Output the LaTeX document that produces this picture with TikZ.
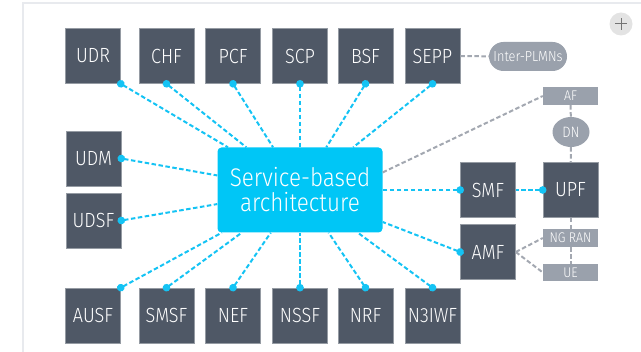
\documentclass[tikz,border=0pt]{standalone}
\usepackage{fontspec}
\setmainfont{Fira Sans}[UprightFont=* Light, FakeStretch=0.88]
\usetikzlibrary{arrows.meta,shapes.geometric}

\definecolor{nfgray}{HTML}{4F5866}
\definecolor{extgray}{HTML}{9AA1AC}
\definecolor{sbacyan}{HTML}{00C6F6}
\definecolor{linkcyan}{HTML}{14C3F4}
\definecolor{linkgray}{HTML}{A3A8B1}
\definecolor{framegray}{HTML}{E8EAEE}

\begin{document}
\begin{tikzpicture}[x=1pt, y=-1pt,
    nf/.style={rectangle, fill=nfgray, draw=nfgray!60!white, line width=0.6pt, text=white,
        minimum width=55pt, minimum height=55pt, inner sep=0pt, font=\fontsize{20.5}{22}\selectfont},
    ext/.style={rectangle, fill=extgray, text=white, minimum width=55pt, minimum height=18pt,
        inner sep=0pt, font=\fontsize{14}{14}\selectfont},
    sba link/.style={linkcyan, line width=2pt, dash pattern=on 4.5pt off 2.5pt,
        {Circle[length=7.5pt]}-, shorten <=-3.75pt},
    ext link/.style={linkgray, line width=2pt, dash pattern=on 4.5pt off 2.5pt}
]
\useasboundingbox (0,0) rectangle (641,352);

% Frame
\draw[framegray, line width=1.5pt] (23,360) -- (23,3) -- (660,3);
\node[circle, fill=gray!22, minimum size=23pt, inner sep=0pt,
    path picture={\draw[gray!90!black, line width=1pt] (path picture bounding box.center) +(-6pt,0) -- +(6pt,0)
        (path picture bounding box.center) +(0,-6pt) -- +(0,6pt);}] (plus) at (621,24) {};

% Service-based architecture
\node[rectangle, rounded corners=4pt, fill=sbacyan, text=white, minimum width=165pt,
    minimum height=85pt, inner sep=0pt, align=center,
    font=\fontsize{25.5}{25}\selectfont] (SBA) at (300,190) {Service-based\\architecture};

% Top row
\node[nf] (UDR) at (93,56) {UDR};
\node[nf] (CHF) at (166.5,56) {CHF};
\node[nf] (PCF) at (233,56) {PCF};
\node[nf] (SCP) at (300,56) {SCP};
\node[nf] (BSF) at (365.5,56) {BSF};
\node[nf] (SEPP) at (432.5,56) {SEPP};

% Left column
\node[nf] (UDM) at (93.5,158.5) {UDM};
\node[nf] (UDSF) at (93.5,220.5) {UDSF};

% Bottom row
\node[nf] (AUSF) at (93,315.5) {AUSF};
\node[nf] (SMSF) at (166.5,315.5) {SMSF};
\node[nf] (NEF) at (233,315.5) {NEF};
\node[nf] (NSSF) at (300,315.5) {NSSF};
\node[nf] (NRF) at (365.5,315.5) {NRF};
\node[nf] (N3IWF) at (432.5,315.5) {N3IWF};

% Right side
\node[nf] (SMF) at (488,190) {SMF};
\node[nf] (UPF) at (570.5,190) {UPF};
\node[nf] (AMF) at (488,252) {AMF};

% External
\node[rectangle, rounded corners=14.5pt, fill=extgray, text=white, minimum width=78pt,
    minimum height=29pt, inner sep=0pt, font=\fontsize{14.5}{16}\selectfont] (PLMN) at (528,56.5) {Inter-PLMNs};
\node[ext] (AF) at (570.5,96) {AF};
\node[ellipse, fill=extgray, text=white, minimum width=37pt, minimum height=30pt, inner sep=0pt,
    font=\fontsize{15}{15}\selectfont] (DN) at (571,132) {DN};
\node[ext] (NGRAN) at (570.5,238) {NG RAN};
\node[ext, minimum height=17pt] (UE) at (570.5,272.5) {UE};

% Links to the service-based architecture
\draw[sba link] (UDR.south east) -- (SBA);
\draw[sba link] (CHF.south) -- (SBA);
\draw[sba link] (PCF.south) -- (SBA);
\draw[sba link] (SCP.south) -- (SBA);
\draw[sba link] (BSF.south) -- (SBA);
\draw[sba link] (SEPP.south) -- (SBA);
\draw[sba link] (UDM.east) -- (SBA);
\draw[sba link] (UDSF.east) -- (SBA);
\draw[sba link] (AUSF.north east) -- (SBA);
\draw[sba link] (SMSF.north) -- (SBA);
\draw[sba link] (NEF.north) -- (SBA);
\draw[sba link] (NSSF.north) -- (SBA);
\draw[sba link] (NRF.north) -- (SBA);
\draw[sba link] (N3IWF.north) -- (SBA);
\draw[sba link] (SMF.west) -- (SBA);
\draw[sba link] (AMF.west) -- (SBA);
\draw[sba link] (UPF.west) -- (SMF.east);

% External links
\draw[ext link] (SEPP) -- (PLMN);
\draw[ext link] (SBA.12) -- (AF.west);
\draw[ext link] (AF) -- (DN);
\draw[ext link] (DN) -- (UPF);
\draw[ext link] (UPF) -- (NGRAN);
\draw[ext link] (NGRAN) -- (UE);
\draw[ext link] (AMF.east) -- (NGRAN.west);
\draw[ext link] (AMF.east) -- (UE.west);

\end{tikzpicture}
\end{document}
